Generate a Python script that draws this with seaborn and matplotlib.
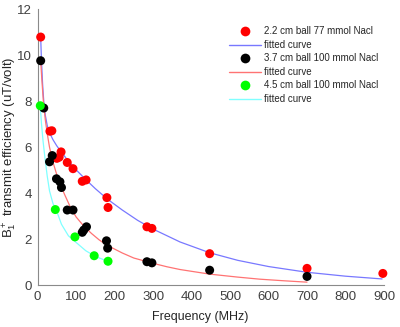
import matplotlib
matplotlib.use("Agg")
import matplotlib.pyplot as plt
import seaborn as sns
import pandas as pd
from matplotlib.lines import Line2D

# ---- data ----
freq_22 = [8, 32, 37, 50, 56, 61, 77, 92, 116, 126, 180, 183, 284, 297, 447, 700, 897]
eff_22 = [10.8, 6.7, 6.72, 5.52, 5.57, 5.8, 5.34, 5.07, 4.52, 4.58, 3.81, 3.38, 2.54, 2.47, 1.37, 0.73, 0.51]

freq_37 = [8, 16, 31, 38, 49, 58, 62, 77, 92, 116, 120, 127, 179, 182, 284, 297, 447, 700]
eff_37 = [9.77, 7.71, 5.37, 5.64, 4.63, 4.5, 4.25, 3.27, 3.27, 2.3, 2.4, 2.54, 1.93, 1.61, 1.02, 0.97, 0.65, 0.38]

freq_45 = [7, 46, 97, 147, 183]
eff_45 = [7.81, 3.29, 2.1, 1.28, 1.04]

fit22_f = [8, 10, 13, 16, 20, 25, 30, 40, 50, 65, 80, 100, 125, 150, 181, 220, 260, 300, 370, 447, 520, 600, 700, 800, 895]
fit22_v = [10.8, 9.8, 8.75, 8.0, 7.4, 6.95, 6.67, 6.33, 6.06, 5.72, 5.4, 5.02, 4.6, 4.2, 3.75, 3.27, 2.82, 2.44, 1.88, 1.41, 1.08, 0.81, 0.56, 0.39, 0.27]

fit37_f = [8, 11, 15, 20, 25, 31, 40, 50, 60, 70, 85, 100, 120, 140, 160, 180, 220, 250, 300, 336, 370, 447, 520, 577, 640, 700]
fit37_v = [9.77, 8.95, 8.0, 7.2, 6.6, 6.0, 5.35, 4.8, 4.35, 3.95, 3.4, 2.97, 2.57, 2.25, 1.97, 1.74, 1.4, 1.18, 0.95, 0.8, 0.68, 0.48, 0.35, 0.26, 0.19, 0.13]

fit45_f = [7, 10, 14, 19, 25, 31, 40, 49, 62, 80, 100, 125, 150, 170, 185]
fit45_v = [7.8, 7.05, 6.3, 5.55, 4.75, 4.1, 3.55, 3.25, 2.65, 2.15, 1.86, 1.5, 1.25, 1.12, 1.03]

labels = ["2.2 cm ball 77 mmol Nacl", "3.7 cm ball 100 mmol Nacl", "4.5 cm ball 100 mmol Nacl"]
xticks = [0, 100, 200, 300, 400, 500, 600, 700, 800, 900]
yticks = [0, 2, 4, 6, 8, 10, 12]

dot_colors = ["#ff0000", "#000000", "#00ff00"]
line_colors = ["#7878ff", "#ff7373", "#80ffff"]

sns.set_style("white")
plt.rcParams["font.family"] = ["Liberation Sans", "DejaVu Sans"]
plt.rcParams["mathtext.default"] = "regular"

pts = pd.concat([
    pd.DataFrame({"f": freq_22, "v": eff_22, "g": labels[0]}),
    pd.DataFrame({"f": freq_37, "v": eff_37, "g": labels[1]}),
    pd.DataFrame({"f": freq_45, "v": eff_45, "g": labels[2]}),
])
fits = pd.concat([
    pd.DataFrame({"f": fit22_f, "v": fit22_v, "g": labels[0]}),
    pd.DataFrame({"f": fit37_f, "v": fit37_v, "g": labels[1]}),
    pd.DataFrame({"f": fit45_f, "v": fit45_v, "g": labels[2]}),
])

fig = plt.figure(figsize=(4, 3.27), dpi=100)
ax = fig.add_axes([0.094, 0.128, 0.866, 0.843])

sns.lineplot(data=fits, x="f", y="v", hue="g", palette=dict(zip(labels, line_colors)),
             estimator=None, sort=False, lw=0.9, legend=False, ax=ax, zorder=2)
sns.scatterplot(data=pts, x="f", y="v", hue="g", palette=dict(zip(labels, dot_colors)),
                s=42, edgecolor="none", legend=False, ax=ax, zorder=3, clip_on=False)

ax.set_xlim(0, 900)
ax.set_ylim(0, 12)
ax.set_xticks(xticks)
ax.set_yticks(yticks)
for sp in ["top", "right"]:
    ax.spines[sp].set_visible(False)
for sp in ["left", "bottom"]:
    ax.spines[sp].set_color("#8a8a8a")
    ax.spines[sp].set_linewidth(0.8)
ax.tick_params(direction="in", length=3, width=0.8, color="#8a8a8a",
               labelsize=9.5, labelcolor="#404040", pad=4)

ax.set_xlabel("Frequency (MHz)", fontsize=9, color="#262626")
ax.set_ylabel("B$_1^+$ transmit efficiency (uT/volt)", fontsize=9.5, color="#262626")
ax.xaxis.set_label_coords(0.47, -0.095)
ax.yaxis.set_label_coords(-0.055, 0.5)

handles = []
for dc, lc in zip(dot_colors, line_colors):
    handles.append(Line2D([], [], ls="none", marker="o", ms=7, color=dc, mec="none"))
    handles.append(Line2D([], [], color=lc, lw=1.0))
leg_labels = []
for lab in labels:
    leg_labels += [lab, "fitted curve"]
ax.legend(handles, leg_labels, loc="upper left", bbox_to_anchor=(0.555, 0.94),
          bbox_transform=fig.transFigure, frameon=False, fontsize=7,
          handlelength=3.3, handletextpad=0.3, labelspacing=0.36, borderpad=0.2)

fig.savefig("out.png", dpi=100)
